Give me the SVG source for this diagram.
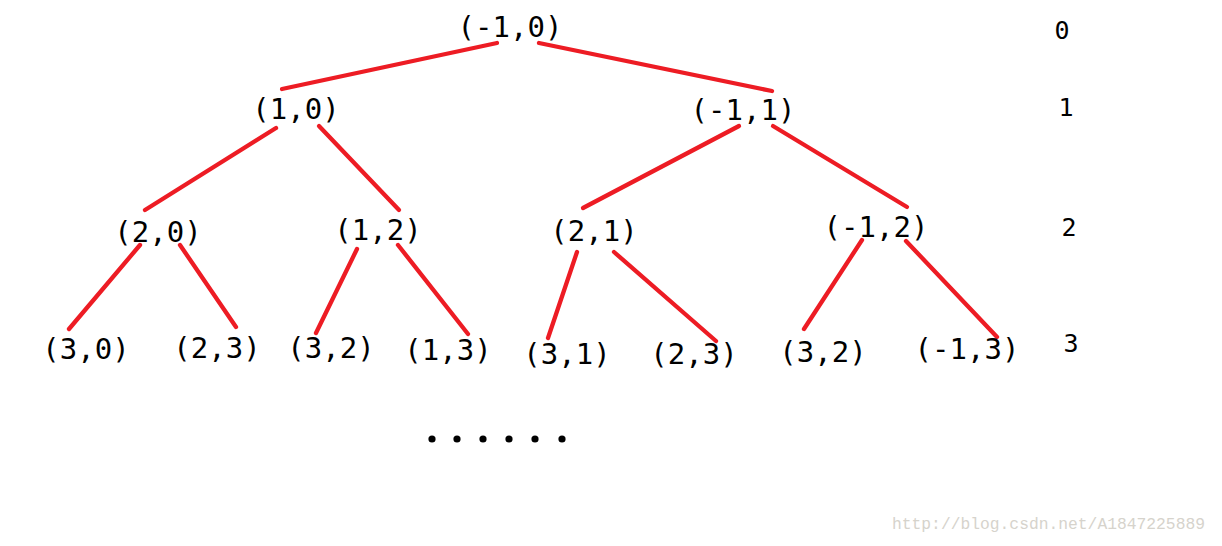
<svg xmlns="http://www.w3.org/2000/svg" width="1222" height="546" viewBox="0 0 1222 546">
<style>
.n{font-family:"DejaVu Sans Mono","Liberation Mono",monospace;font-size:29px;fill:#000;text-anchor:middle}
.lv{font-family:"DejaVu Sans Mono","Liberation Mono",monospace;font-size:25px;fill:#000;text-anchor:middle}
.e line{stroke:#ED1C24;stroke-width:4.3;stroke-linecap:round}
.wm{font-family:"Liberation Mono",monospace;font-size:16.5px;fill:#d6d3cc}
</style>
<rect width="1222" height="546" fill="#fff"/>
<g id="connectors" class="e">
<line x1="497" y1="43" x2="282" y2="89"/>
<line x1="539" y1="43" x2="772" y2="91"/>
<line x1="276" y1="128" x2="145" y2="210"/>
<line x1="319" y1="126" x2="399" y2="210"/>
<line x1="739" y1="126" x2="583" y2="208"/>
<line x1="773" y1="126" x2="907" y2="207"/>
<line x1="140" y1="245" x2="69" y2="329"/>
<line x1="180" y1="245" x2="236" y2="327"/>
<line x1="357" y1="249" x2="316" y2="333"/>
<line x1="398" y1="245" x2="468" y2="334"/>
<line x1="577" y1="252" x2="548" y2="338"/>
<line x1="614" y1="252" x2="716" y2="341"/>
<line x1="862" y1="240" x2="804" y2="329"/>
<line x1="906" y1="241" x2="997" y2="337"/>
</g>
<g id="n_m1_0"><text class="n" x="510" y="37">(-1,0)</text></g>
<g id="n_1_0"><text class="n" x="296" y="119">(1,0)</text></g>
<g id="n_m1_1"><text class="n" x="743" y="120">(-1,1)</text></g>
<g id="n_2_0"><text class="n" x="158" y="242">(2,0)</text></g>
<g id="n_1_2"><text class="n" x="378" y="240">(1,2)</text></g>
<g id="n_2_1"><text class="n" x="594" y="241">(2,1)</text></g>
<g id="n_m1_2"><text class="n" x="876" y="237">(-1,2)</text></g>
<g id="n_3_0"><text class="n" x="86" y="359">(3,0)</text></g>
<g id="n_2_3a"><text class="n" x="217" y="358">(2,3)</text></g>
<g id="n_3_2a"><text class="n" x="331" y="358">(3,2)</text></g>
<g id="n_1_3"><text class="n" x="448" y="360">(1,3)</text></g>
<g id="n_3_1"><text class="n" x="567" y="364">(3,1)</text></g>
<g id="n_2_3b"><text class="n" x="694" y="364">(2,3)</text></g>
<g id="n_3_2b"><text class="n" x="823" y="362">(3,2)</text></g>
<g id="n_m1_3"><text class="n" x="967" y="359">(-1,3)</text></g>
<g id="levels">
<text class="lv" x="1062" y="39">0</text>
<text class="lv" x="1066" y="116">1</text>
<text class="lv" x="1069" y="236">2</text>
<text class="lv" x="1071" y="352">3</text>
</g>
<g id="dots" fill="#000">
<circle cx="432" cy="439" r="3.6"/>
<circle cx="457" cy="439" r="3.6"/>
<circle cx="483" cy="439" r="3.6"/>
<circle cx="509" cy="439" r="3.6"/>
<circle cx="535" cy="439" r="3.6"/>
<circle cx="562" cy="439" r="3.6"/>
</g>
<text class="wm" x="892" y="529" textLength="313" lengthAdjust="spacingAndGlyphs">http://blog.csdn.net/A1847225889</text>
</svg>
